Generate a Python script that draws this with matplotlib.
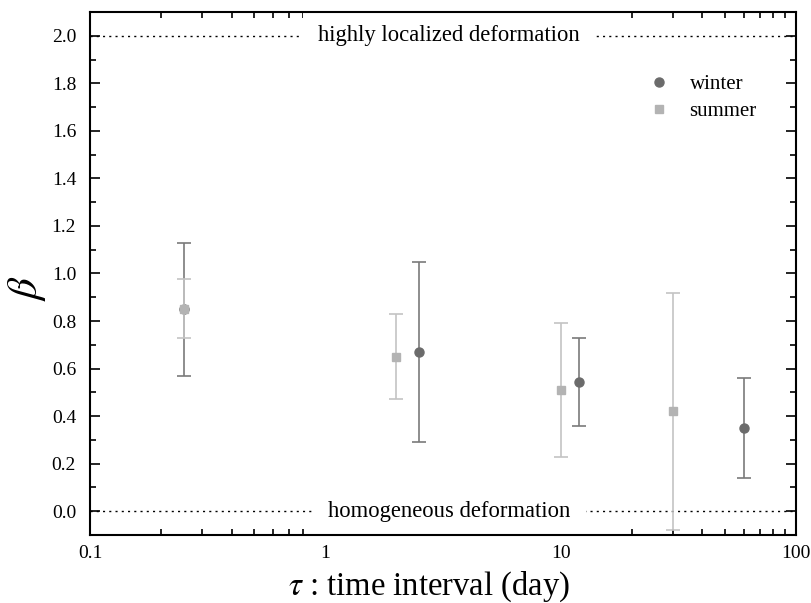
import matplotlib
matplotlib.use("Agg")
import matplotlib.pyplot as plt
from matplotlib.lines import Line2D
from matplotlib.ticker import FixedLocator, MultipleLocator, NullFormatter, LogLocator, FormatStrFormatter

plt.rcParams['font.family'] = ['Liberation Serif', 'DejaVu Serif']
plt.rcParams['mathtext.fontset'] = 'stix'

winter_tau = [0.25, 2.5, 12, 60]
winter_beta = [0.85, 0.67, 0.545, 0.35]
winter_lo = [0.57, 0.29, 0.36, 0.14]
winter_hi = [1.13, 1.05, 0.73, 0.56]

summer_tau = [0.25, 2, 10, 30]
summer_beta = [0.85, 0.65, 0.51, 0.42]
summer_lo = [0.73, 0.47, 0.23, -0.08]
summer_hi = [0.975, 0.83, 0.79, 0.92]

x_ticks = [0.1, 1, 10, 100]
x_ticklabels = ['0.1', '1', '10', '100']

W, H = 812, 603
fig = plt.figure(figsize=(W / 100, H / 100), dpi=100)
ax = fig.add_axes([90 / W, 1 - 535 / H, (796 - 90) / W, (535 - 12) / H])

wc = '#6b6b6b'
sc = '#b3b3b3'

ax.errorbar(winter_tau, winter_beta,
            yerr=[[b - l for b, l in zip(winter_beta, winter_lo)],
                  [h - b for b, h in zip(winter_beta, winter_hi)]],
            fmt='o', color=wc, ecolor='#7a7a7a', elinewidth=1.2, capsize=5,
            capthick=1.2, markersize=6.5, zorder=3)
ax.errorbar(summer_tau, summer_beta,
            yerr=[[b - l for b, l in zip(summer_beta, summer_lo)],
                  [h - b for b, h in zip(summer_beta, summer_hi)]],
            fmt='s', color=sc, ecolor='#c4c4c4', elinewidth=1.2, capsize=5,
            capthick=1.2, markersize=6, zorder=4)

ax.axhline(2.0, color='black', linestyle=(0, (1.5, 3)), linewidth=1, zorder=1)
ax.axhline(0.0, color='black', linestyle=(0, (1.5, 3)), linewidth=1, zorder=1)
ax.text(0.509, 2.0, 'highly localized deformation', transform=ax.get_yaxis_transform(),
        ha='center', va='center', fontsize=16.3,
        bbox=dict(facecolor='white', edgecolor='none', pad=11), zorder=2)
ax.text(0.509, 0.0, 'homogeneous deformation', transform=ax.get_yaxis_transform(),
        ha='center', va='center', fontsize=16.3,
        bbox=dict(facecolor='white', edgecolor='none', pad=11), zorder=2)

ax.set_xscale('log')
ax.set_xlim(0.1, 100)
ax.set_ylim(-0.1, 2.1)
ax.xaxis.set_major_locator(FixedLocator(x_ticks))
ax.set_xticklabels(x_ticklabels)
ax.xaxis.set_minor_locator(LogLocator(base=10, subs=range(2, 10)))
ax.xaxis.set_minor_formatter(NullFormatter())
ax.yaxis.set_major_locator(MultipleLocator(0.2))
ax.yaxis.set_minor_locator(MultipleLocator(0.1))
ax.yaxis.set_major_formatter(FormatStrFormatter('%.1f'))

ax.tick_params(which='both', direction='in', top=True, right=True, labelsize=14, width=1.2)
ax.tick_params(which='major', length=7)
ax.tick_params(axis='y', which='major', pad=10)
ax.tick_params(axis='x', which='major', pad=7)
ax.tick_params(which='minor', length=4.5)
for s in ax.spines.values():
    s.set_linewidth(1.5)

fig.text(429 / W, 1 - 595 / H, r'$\tau$ : time interval (day)', fontsize=23.5,
         ha='center', va='baseline')
fig.text(27 / W, 1 - 288 / H, r'$\beta$', fontsize=31, rotation=90,
         ha='center', va='center')

handles = [Line2D([], [], linestyle='none', marker='o', color=wc, markersize=6.5),
           Line2D([], [], linestyle='none', marker='s', color=sc, markersize=6)]
ax.legend(handles, ['winter', 'summer'], loc='center left',
          bbox_to_anchor=(619.7 / W, 1 - 98 / H), bbox_transform=fig.transFigure,
          frameon=False, fontsize=15, handlelength=2.0, handletextpad=0.45,
          labelspacing=0.35, borderpad=0.4)

fig.savefig('out.png', dpi=100)
